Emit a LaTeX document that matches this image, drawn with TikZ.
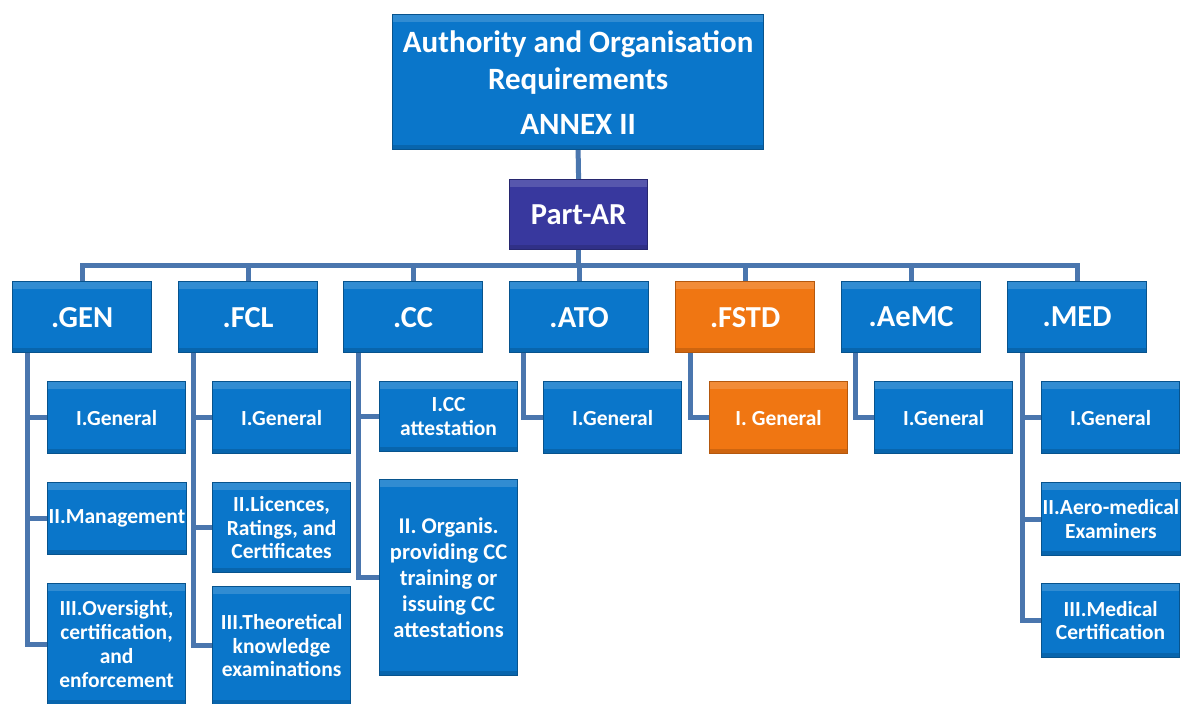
\documentclass[tikz,border=0pt]{standalone}
\usepackage{fontspec}
\setmainfont{Carlito}
\definecolor{boxblue}{HTML}{0A76CA}
\definecolor{boxpurple}{HTML}{38389E}
\definecolor{boxorange}{HTML}{F07612}
\definecolor{connblue}{HTML}{4A76AE}
\tikzset{
  bevel/.style={path picture={
    \fill[white,opacity=0.16] (path picture bounding box.north west) rectangle ([yshift=-7pt]path picture bounding box.north east);
    \fill[black,opacity=0.14] (path picture bounding box.south west) rectangle ([yshift=5pt]path picture bounding box.south east);
  }},
  basebox/.style={anchor=north west, line width=1.2pt, text=white, align=center, inner sep=1pt, bevel},
  bluebox/.style={basebox, fill=boxblue, draw=boxblue!70!black},
  purplebox/.style={basebox, fill=boxpurple, draw=boxpurple!70!black},
  orangebox/.style={basebox, fill=boxorange, draw=boxorange!75!black},
  lvlone/.style={minimum width=139pt, minimum height=71pt, font=\fontsize{30.5}{34}\selectfont\bfseries},
  lvltwo/.style={minimum width=138pt, font=\fontsize{21.5}{23.5}\selectfont\bfseries},
  conn/.style={draw=connblue, line width=5pt},
}
\begin{document}
\begin{tikzpicture}[x={(1pt,0)}, y={(0,-1pt)}]
\useasboundingbox[fill=white] (0,0) rectangle (1181,704);
\coordinate (bus) at (0,265);

\node[bluebox, minimum width=371pt, minimum height=135pt, font=\fontsize{31}{37}\selectfont\bfseries] (top) at (392,14) {Authority and Organisation\\Requirements\\[8pt]ANNEX II};
\node[purplebox, minimum width=138pt, minimum height=70pt, font=\fontsize{30.5}{34}\selectfont\bfseries] (part) at (509,179) {Part-AR};

\node[bluebox, lvlone] (gen) at (12,281) {.GEN};
\node[bluebox, lvlone] (fcl) at (178,281) {.FCL};
\node[bluebox, lvlone] (cc) at (343,281) {.CC};
\node[bluebox, lvlone] (ato) at (509,281) {.ATO};
\node[orangebox, lvlone] (fstd) at (675,281) {.FSTD};
\node[bluebox, lvlone] (aemc) at (841,281) {.AeMC};
\node[bluebox, lvlone] (med) at (1007,281) {.MED};

% level two
\node[bluebox, lvltwo, minimum height=72pt] (gen1) at (47,381) {I.General};
\node[bluebox, lvltwo, minimum height=72pt] (gen2) at (47,482) {II.Management};
\node[bluebox, lvltwo, minimum height=121pt, font=\fontsize{21.5}{24}\selectfont\bfseries] (gen3) at (47,583) {III.Oversight,\\certification,\\and\\enforcement};

\node[bluebox, lvltwo, minimum height=72pt] (fcl1) at (212,381) {I.General};
\node[bluebox, lvltwo, minimum height=90pt] (fcl2) at (212,482) {II.Licences,\\Ratings,\ and\\Certificates};
\node[bluebox, lvltwo, minimum height=118pt] (fcl3) at (212,586) {III.Theoretical\\knowledge\\examinations};

\node[bluebox, lvltwo, minimum height=70pt] (cc1) at (379,381) {I.CC\\attestation};
\node[bluebox, lvltwo, minimum height=196pt, font=\fontsize{22.5}{26}\selectfont\bfseries] (cc2) at (379,479) {II. Organis.\\providing CC\\training or\\issuing CC\\attestations};

\node[bluebox, lvltwo, minimum height=72pt] (ato1) at (543,381) {I.General};
\node[orangebox, lvltwo, minimum height=72pt] (fstd1) at (709,381) {I. General};
\node[bluebox, lvltwo, minimum height=72pt] (aemc1) at (874,381) {I.General};

\node[bluebox, lvltwo, minimum height=72pt] (med1) at (1041,381) {I.General};
\node[bluebox, lvltwo, minimum height=73pt] (med2) at (1041,482) {II.Aero-medical\\Examiners};
\node[bluebox, lvltwo, minimum height=74pt] (med3) at (1041,583) {III.Medical\\Certification};

% connectors
\draw[conn] (top.south) -- (part.north);
\draw[conn] (part.south) -- (part.south |- bus);
\draw[conn] (gen.north) -- (gen.north |- bus) -- (med.north |- bus) -- (med.north);
\foreach \n in {fcl,cc,ato,fstd,aemc}
  \draw[conn] (\n.north) -- (\n.north |- bus);

\draw[conn] ([xshift=15pt]gen.south west) |- (gen3.west);
\draw[conn] ([xshift=15pt]gen.south west) |- (gen1.west);
\draw[conn] ([xshift=15pt]gen.south west) |- (gen2.west);

\draw[conn] ([xshift=15pt]fcl.south west) |- (fcl3.west);
\draw[conn] ([xshift=15pt]fcl.south west) |- (fcl1.west);
\draw[conn] ([xshift=15pt]fcl.south west) |- (fcl2.west);

\draw[conn] ([xshift=15pt]cc.south west) |- (cc2.west);
\draw[conn] ([xshift=15pt]cc.south west) |- (cc1.west);

\draw[conn] ([xshift=14pt]ato.south west) |- (ato1.west);
\draw[conn] ([xshift=15pt]fstd.south west) |- (fstd1.west);
\draw[conn] ([xshift=14pt]aemc.south west) |- (aemc1.west);

\draw[conn] ([xshift=15pt]med.south west) |- (med3.west);
\draw[conn] ([xshift=15pt]med.south west) |- (med1.west);
\draw[conn] ([xshift=15pt]med.south west) |- (med2.west);
\end{tikzpicture}
\end{document}
